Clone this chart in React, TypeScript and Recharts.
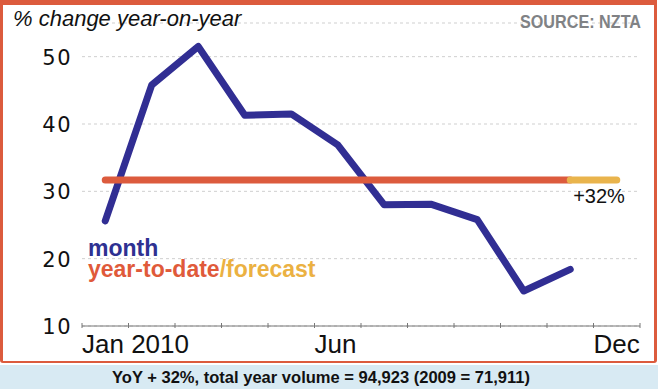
import { ComposedChart, Line, XAxis, YAxis, CartesianGrid } from "recharts";

const months = ["Jan", "Feb", "Mar", "Apr", "May", "Jun", "Jul", "Aug", "Sep", "Oct", "Nov", "Dec"];
// % change year-on-year, monthly
const monthChange = [25.6, 45.8, 51.5, 41.3, 41.5, 36.9, 28.0, 28.1, 25.8, 15.2, 18.4, null];
// year-to-date change (solid) and forecast to year end
const yearToDate = [31.7, 31.7, 31.7, 31.7, 31.7, 31.7, 31.7, 31.7, 31.7, 31.7, 31.7, null];
const forecast = [null, null, null, null, null, null, null, null, null, null, 31.7, 31.7];

const yTicks = [10, 20, 30, 40, 50];
const xTicks = [0, 1, 2, 3, 4, 5, 6, 7, 8, 9, 10, 11, 12];
const xTickLabels: Record<number, string> = { 0: "Jan 2010", 5: "Jun", 11: "Dec" };

const data = months.map((m, i) => ({
  name: m,
  x: i + 0.5,
  month: monthChange[i],
  ytd: yearToDate[i],
  forecast: forecast[i],
}));

const FONT = '"Liberation Sans", Arial, Helvetica, sans-serif';

function XTick(props: any) {
  const { x, y, payload } = props;
  const label = xTickLabels[payload.value];
  return (
    <g>
      <line x1={x} y1={y - 3} x2={x} y2={y + 2} stroke="#777" strokeWidth={1} />
      {label && (
        <text x={x} y={y + 27} textAnchor="start" fontFamily={FONT} fontSize={26} fill="#111">
          {label}
        </text>
      )}
    </g>
  );
}

function YTick(props: any) {
  const { x, y, payload } = props;
  return (
    <text
      x={x}
      y={y + 8}
      textAnchor="end"
      fontFamily='"DejaVu Sans", sans-serif'
      fontSize={21}
      letterSpacing={1.5}
      fill="#111"
    >
      {payload.value}
    </text>
  );
}

export default function App() {
  return (
    <div style={{ position: "absolute", left: 0, top: 0, width: 658, height: 389, background: "#fff", overflow: "hidden" }}>
      <div
        style={{
          position: "absolute",
          left: 0,
          top: 0,
          width: 657,
          height: 363,
          boxSizing: "border-box",
          borderTop: "5px solid #dc5b3d",
          borderLeft: "3px solid #dc5b3d",
          borderRight: "3px solid #dc5b3d",
          borderBottom: "2px solid #dc5b3d",
          borderRadius: "0 0 3px 3px",
        }}
      />
      <div style={{ position: "absolute", left: 0, top: 365, width: 658, height: 24, background: "#d8eaf3" }} />
      <div style={{ position: "absolute", left: 0, top: 0 }}>
        <ComposedChart width={658} height={389} data={data} margin={{ top: 23, right: 18, bottom: 0, left: 0 }}>
          <CartesianGrid vertical={false} strokeDasharray="3 3" stroke="#cfcfcf" />
          <XAxis
            type="number"
            dataKey="x"
            domain={[0, 12]}
            ticks={xTicks}
            interval={0}
            height={63}
            tickSize={0}
            tickMargin={0}
            tickLine={false}
            axisLine={{ stroke: "#777", strokeWidth: 1 }}
            tick={<XTick />}
          />
          <YAxis
            type="number"
            domain={[10, 55]}
            ticks={yTicks}
            width={82}
            tickSize={0}
            tickMargin={10}
            tickLine={false}
            axisLine={false}
            tick={<YTick />}
          />
          <Line
            dataKey="month"
            stroke="#312e93"
            strokeWidth={7}
            strokeLinejoin="round"
            strokeLinecap="round"
            dot={false}
            activeDot={false}
            isAnimationActive={false}
          />
          <Line
            dataKey="ytd"
            stroke="#dc5b3d"
            strokeWidth={7}
            strokeLinecap="round"
            dot={false}
            activeDot={false}
            isAnimationActive={false}
          />
          <Line
            dataKey="forecast"
            stroke="#e9b44c"
            strokeWidth={7}
            strokeLinecap="round"
            dot={false}
            activeDot={false}
            isAnimationActive={false}
          />
        </ComposedChart>
      </div>
      <svg width={658} height={389} style={{ position: "absolute", left: 0, top: 0, pointerEvents: "none" }}>
        <text x={13} y={26} fontFamily={FONT} fontStyle="italic" fontSize={22} fill="#111">
          % change year-on-year
        </text>
        <text
          x={520}
          y={28}
          fontFamily={FONT}
          fontWeight="bold"
          fontSize={18}
          fill="#808285"
          textLength={121}
          lengthAdjust="spacingAndGlyphs"
        >
          SOURCE: NZTA
        </text>
        <text x={599} y={203} textAnchor="middle" fontFamily={FONT} fontSize={20} fill="#111">
          +32%
        </text>
        <text x={88} y={256} fontFamily={FONT} fontWeight="bold" fontSize={23} fill="#2e3192">
          month
        </text>
        <text x={88} y={277} fontFamily={FONT} fontWeight="bold" fontSize={23}>
          <tspan fill="#e05a3a">year-to-date</tspan>
          <tspan fill="#ebb142">/forecast</tspan>
        </text>
        <text
          x={112}
          y={383}
          fontFamily={FONT}
          fontWeight="bold"
          fontSize={17}
          fill="#111"
          textLength={418}
          lengthAdjust="spacingAndGlyphs"
        >
          YoY + 32%, total year volume = 94,923 (2009 = 71,911)
        </text>
      </svg>
    </div>
  );
}
